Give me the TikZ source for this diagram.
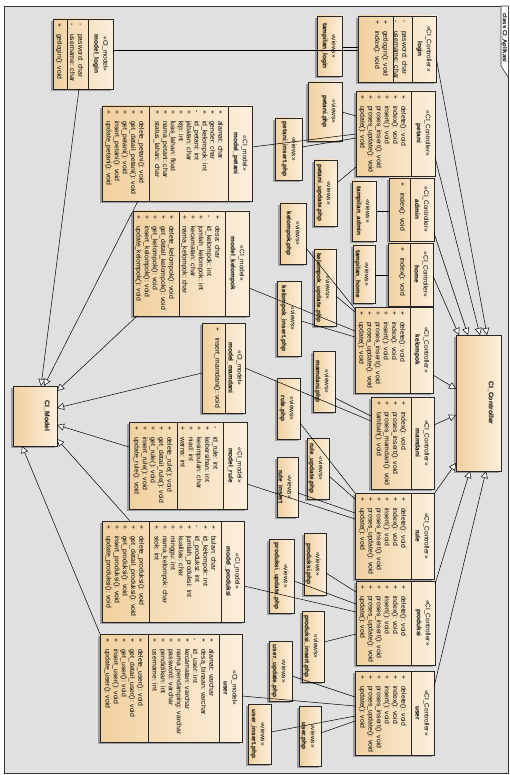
\documentclass[tikz,border=0pt]{standalone}
\usepackage{fontspec}
\setmainfont{Liberation Sans}
\usetikzlibrary{arrows.meta,shadows}
\definecolor{boxlight}{HTML}{FCEFDC}
\definecolor{boxdark}{HTML}{F1D09E}
\definecolor{bgc}{HTML}{E0E0E0}
\newcommand\vpub{\makebox[11pt][l]{+}}
\newcommand\vpri{\makebox[11pt][l]{-}}
\newcommand\ubox[5]{\node[ubx,minimum width={#4-#2},minimum height={#5-#3}] (#1) at ({(#2+#4)/2},{(#3+#5)/2}) {};}
\newcommand\usep[3]{\draw[sepline] (#1,#2) -- (#1,#3);}
\newcommand\uhd[5]{\node[hdr] (#1) at (#2,#3) {#4\\\textbf{#5}};}
\newcommand\umm[5][8.2]{\node[mem,font=\fontsize{6.8}{#1}\selectfont] (#2) at (#3,#4) {#5};}
\newcommand\uview[6]{\ubox{#1}{#2}{#3}{#4}{#5}\node[hdr] (#1-h) at ({#4-13},{(#3+#5)/2}) {«views»\\\textbf{#6}};}
\newcommand\sixops{\vpub delete(): void\\\vpub index(): void\\\vpub insert(): void\\\vpub proses\_insert(): void\\\vpub proses\_update(): void\\\vpub update(): void}
\newcommand\fiveops[1]{\vpub delete\_#1(): void\\\vpub get\_detail\_#1(): void\\\vpub get\_#1(): void\\\vpub insert\_#1(): void\\\vpub update\_#1(): void}
\begin{document}
\begin{tikzpicture}[x=1pt,y=-1pt,
  ubx/.style={draw=black!85,line width=0.6pt,left color=boxdark,right color=boxlight,inner sep=0,outer sep=0,
    drop shadow={shadow xshift=-1.6pt,shadow yshift=-1.6pt,opacity=0.3,fill=black}},
  sepline/.style={draw=black!85,line width=0.5pt},
  hdr/.style={rotate=-90,align=center,font=\fontsize{6.5}{9}\selectfont,inner sep=0},
  mem/.style={rotate=-90,align=left,inner sep=0,anchor=north west},
  lbl/.style={rotate=-90,font=\fontsize{6.8}{8}\selectfont\bfseries,inner sep=0},
  assoc/.style={draw=black,line width=0.5pt},
  gen/.style={draw=black,line width=0.5pt,-{Triangle[length=7pt,width=7pt,fill=white]}}]
\useasboundingbox (0,0) rectangle (509,775);
\fill[white] (0,0) rectangle (509,775);
\fill[bgc] (4,6) rectangle (508,773);
\draw[line width=0.6pt,black!80] (4,6) rectangle (508,773);
\draw[line width=0.6pt,black!80,fill=white] (508,6) -- (501,6) -- (501,66) -- (508,77);
\node[rotate=-90,font=\fontsize{6}{7}\selectfont\bfseries,inner sep=0] (title) at (504.5,38) {class CI\_Aplikasi};

% ---------- controllers ----------
\ubox{clogin}{358}{16}{436}{82}\usep{412}{16}{82}\usep{393}{16}{82}
\uhd{clogin-h}{424}{49}{«CI\_Controller»}{login}
\umm{clogin-a}{407.5}{20}{\vpri pasword: char\\\vpri username: char}
\umm{clogin-o}{388.5}{20}{\vpub getlogin(): void\\\vpub index(): void}

\ubox{cpetani}{356}{91}{435}{176}\usep{411}{91}{176}
\uhd{cpetani-h}{423}{133.5}{«CI\_Controller»}{petani}
\umm{cpetani-o}{406.5}{95}{\sixops}

\ubox{cadmin}{389}{178}{434}{241}\usep{410}{178}{241}
\uhd{cadmin-h}{422}{209.5}{«CI\_Controller»}{admin}
\umm{cadmin-o}{405.5}{182}{\vpub index(): void}

\ubox{chome}{388}{243}{433}{306}\usep{410}{243}{306}
\uhd{chome-h}{421.5}{274.5}{«CI\_Controller»}{home}
\umm{chome-o}{405.5}{247}{\vpub index(): void}

\ubox{ckel}{355}{307}{433}{393}\usep{410}{307}{393}
\uhd{ckel-h}{421.5}{350}{«CI\_Controller»}{kelompok}
\umm{ckel-o}{405.5}{311}{\sixops}

\ubox{cmam}{371}{397}{434}{489}\usep{411}{397}{489}
\uhd{cmam-h}{422.5}{443}{«CI\_Controller»}{mamdani}
\umm{cmam-o}{406.5}{401}{\vpub index(): void\\\vpub proses\_insert(): void\\\vpub proses\_mamdani(): void\\\vpub tambah(): void}

\ubox{crule}{355}{493}{434}{579}\usep{411}{493}{579}
\uhd{crule-h}{422.5}{536}{«CI\_Controller»}{rule}
\umm{crule-o}{406.5}{497}{\sixops}

\ubox{cprod}{356}{581}{435}{665}\usep{411}{581}{665}
\uhd{cprod-h}{423}{623}{«CI\_Controller»}{produksi}
\umm{cprod-o}{406.5}{585}{\sixops}

\ubox{cuser}{355}{671}{434}{755}\usep{411}{671}{755}
\uhd{cuser-h}{422.5}{713}{«CI\_Controller»}{user}
\umm{cuser-o}{406.5}{675}{\sixops}

\ubox{cbase}{456}{335}{501}{471}
\node[lbl] (cbase-l) at (491,403) {CI\_Controller};

% ---------- models ----------
\ubox{cmodel}{13}{386}{57}{446}
\node[lbl] (cmodel-l) at (47,416) {CI\_Model};

\ubox{mlogin}{53}{19}{113}{89}\usep{88}{19}{89}\usep{67}{19}{89}
\uhd{mlogin-h}{100.5}{54}{«CI\_model»}{model\_login}
\umm{mlogin-a}{83.5}{23}{\vpri pasword: char\\\vpri username: char}
\umm{mlogin-o}{62.5}{23}{\vpub getlogin(): void}

\ubox{mpetani}{102}{106}{252}{201}\usep{228}{106}{201}\usep{149}{106}{201}
\uhd{mpetani-h}{240}{153.5}{«CI\_model»}{model\_petani}
\umm[7.9]{mpetani-a}{223.5}{110}{\vpub alamat: char\\\vpub gender: char\\\vpub id\_kelompok: int\\\vpri id\_petani: int\\\vpub jabatan: char\\\vpub ktp: int\\\vpub luas\_lahan: float\\\vpub nama\_petani: char\\\vpub status\_lahan: char}
\umm{mpetani-o}{144.5}{110}{\fiveops{petani}}

\ubox{mkel}{133}{211}{249}{316}\usep{225}{211}{316}\usep{179}{211}{316}
\uhd{mkel-h}{237}{263.5}{«CI\_model»}{model\_kelompok}
\umm{mkel-a}{220.5}{215}{\vpub desa: char\\\vpri id\_kelompok: int\\\vpub jumlah\_kelompok: int\\\vpub kecamatan: char\\\vpub nama\_kelompok: char}
\umm{mkel-o}{174.5}{215}{\fiveops{kelompok}}

\ubox{mmam}{202}{323}{245}{413}\usep{225}{323}{413}
\uhd{mmam-h}{235}{368}{«CI\_model»}{model\_mamdani}
\umm{mmam-o}{220.5}{327}{\vpub insert\_mamdani(): void}

\ubox{mrule}{129}{422}{247}{509}\usep{223}{422}{509}\usep{177}{422}{509}
\uhd{mrule-h}{235}{465.5}{«CI\_model»}{model\_rule}
\umm{mrule-a}{218.5}{426}{\vpri id\_rule: int\\\vpub kebersihan: int\\\vpub kesimpulan: char\\\vpub niad: int\\\vpub warna: int}
\umm{mrule-o}{172.5}{426}{\fiveops{rule}}

\ubox{mprod}{102}{521}{244}{622}\usep{221}{521}{622}\usep{149}{521}{622}
\uhd{mprod-h}{232.5}{571.5}{«CI\_model»}{model\_produksi}
\umm[8.1]{mprod-a}{216.5}{525}{\vpub bulan: char\\\vpub id\_kelompok: int\\\vpri id\_produksi: int\\\vpub jumlah\_produksi: int\\\vpub kualitas: char\\\vpub minggu: int\\\vpub nama\_kelompok: char\\\vpub stok: int}
\umm{mprod-o}{144.5}{525}{\fiveops{produksi}}

\ubox{muser}{100}{634}{242}{742}\usep{219}{634}{742}\usep{148}{634}{742}
\uhd{muser-h}{230.5}{688}{«CI\_model»}{user}
\umm[8.1]{muser-a}{214.5}{638}{\vpub alamat: varchar\\\vpub desa\_binaan: varchar\\\vpri id\_user: int\\\vpub kecamatan: varchar\\\vpub nama\_pendamping: varchar\\\vpub password: varchar\\\vpub pendidikan: int\\\vpub username: int}
\umm{muser-o}{143.5}{638}{\fiveops{user}}

% ---------- views ----------
\uview{vtlogin}{317}{16}{342}{76}{tampilan\_login}
\uview{vpetaniphp}{308}{82}{342}{141}{petani.php}
\uview{vpetaniins}{275}{118}{302}{180}{petani\_insert.php}
\uview{vpetaniupd}{314}{160}{337}{226}{petani\_update.php}
\uview{vtadmin}{352}{181}{376}{241}{tampilan\_admin}
\uview{vthome}{353}{245}{375}{303}{tampilan\_home}
\uview{vkelphp}{280}{203}{306}{264}{kelompok.php}
\uview{vkelupd}{314}{249}{336}{326}{kelompok\_update.php}
\uview{vkelins}{277}{281}{301}{356}{kelompok\_insert.php}
\uview{vmamphp}{313}{351}{335}{412}{mamdani.php}
\uview{vrulephp}{277}{378}{300}{439}{rule.php}
\uview{vruleupd}{307}{438}{329}{499}{rule\_update.php}
\uview{vruleins}{277}{457}{298}{517}{rule\_insert}
\uview{vprodphp}{304}{533}{326}{595}{produksi.php}
\uview{vprodupd}{269}{539}{294}{613}{produksi\_update.php}
\uview{vprodins}{302}{611}{324}{682}{produksi\_insert.php}
\uview{vuserupd}{269}{641}{292}{701}{user\_update.php}
\uview{vuserins}{248}{704}{271}{764}{user\_insert.php}
\uview{vuserphp}{299}{706}{321}{766}{user.php}

% ---------- associations ----------
\draw[assoc] (mlogin.east |- 0,50) -- (clogin.west |- 0,50);
\draw[assoc] (vtlogin.east |- 0,47) -- (clogin.west |- 0,47);
\draw[assoc] (vpetaniphp.east |- 0,112) -- (cpetani.west |- 0,116);
\draw[assoc] (mpetani.east |- 0,147) -- (cpetani.west |- 0,134);
\draw[assoc] (vpetaniins.east |- 0,147) -- (cpetani.west |- 0,138);
\draw[assoc] (vpetaniupd.east |- 0,183) -- (cpetani.west |- 0,167);
\draw[assoc] (vtadmin.east |- 0,211) -- (cadmin.west |- 0,211);
\draw[assoc] (vthome.east |- 0,275) -- (chome.west |- 0,275);
\draw[assoc] (vkelphp.east |- 0,248) -- (ckel.west |- 0,309);
\draw[assoc] (vkelupd.east |- 0,296) -- (ckel.west |- 0,312);
\draw[assoc] (mkel.east |- 0,288) -- (ckel.west |- 0,331);
\draw[assoc] (vkelins.east |- 0,321) -- (ckel.west |- 0,337);
\draw[assoc] (mmam.east |- 0,368) -- (cmam.west |- 0,421);
\draw[assoc] (vmamphp.east |- 0,398) -- (cmam.west |- 0,416);
\draw[assoc] (vrulephp.east |- 0,423) -- (crule.north west);
\draw[assoc] (vruleupd.east |- 0,476) -- (crule.west |- 0,499);
\draw[assoc] (vruleins.east |- 0,493) -- (crule.west |- 0,513);
\draw[assoc] (mrule.east |- 0,484) -- (crule.west |- 0,519);
\draw[assoc] (vprodphp.east |- 0,573) -- (cprod.west |- 0,592);
\draw[assoc] (vprodupd.east |- 0,581) -- (cprod.west |- 0,604);
\draw[assoc] (mprod.east |- 0,586) -- (cprod.west |- 0,612);
\draw[assoc] (vprodins.east |- 0,642) -- (cprod.west |- 0,634);
\draw[assoc] (vuserupd.east |- 0,676) -- (cuser.west |- 0,697);
\draw[assoc] (muser.east |- 0,696) -- (cuser.west |- 0,706);
\draw[assoc] (vuserins.east |- 0,732) -- (cuser.west |- 0,716);
\draw[assoc] (vuserphp.east |- 0,733) -- (cuser.west |- 0,721);

% ---------- generalizations ----------
\draw[gen] (clogin.east |- 0,57) -- (cbase.north -| 487,0);
\draw[gen] (cpetani.east |- 0,157) -- (cbase.north -| 480,0);
\draw[gen] (cadmin.east |- 0,233) -- (cbase.north -| 468,0);
\draw[gen] (chome.east |- 0,276) -- (cbase.north -| 459,0);
\draw[gen] (ckel.east |- 0,375) -- (cbase.west |- 0,389);
\draw[gen] (cmam.east |- 0,425) -- (cbase.west |- 0,415);
\draw[gen] (crule.east |- 0,494) -- (cbase.west |- 0,463);
\draw[gen] (cprod.east |- 0,584) -- (cbase.south -| 470,0);
\draw[gen] (cuser.east |- 0,687) -- (cbase.south -| 486,0);

\draw[gen] (mlogin.south -| 79,0) -- (cmodel.north -| 41,0);
\draw[gen] (mpetani.south -| 138,0) -- (cmodel.north -| 44,0);
\draw[gen] (mkel.south -| 137,0) -- (cmodel.east |- 0,391);
\draw[gen] (mmam.west |- 0,373) -- (cmodel.east |- 0,408);
\draw[gen] (mrule.west |- 0,447) -- (cmodel.east |- 0,425);
\draw[gen] (mprod.north -| 130,0) -- (cmodel.east |- 0,439);
\draw[gen] (muser.north west) -- (cmodel.south -| 22,0);
\end{tikzpicture}
\end{document}
